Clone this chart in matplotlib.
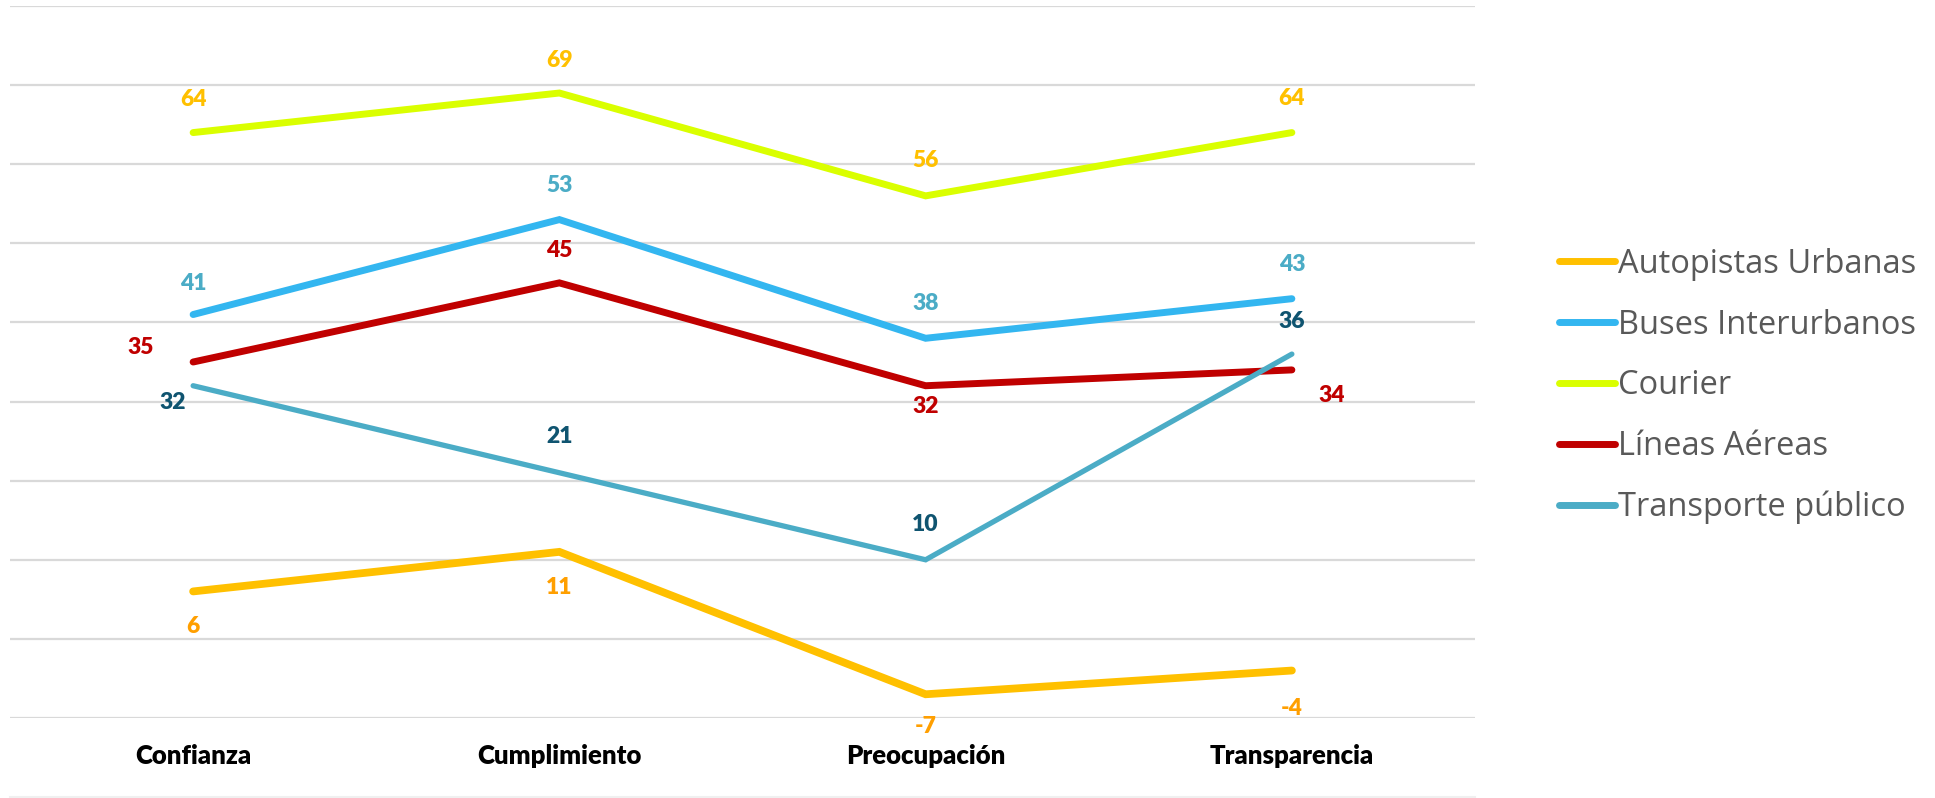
import matplotlib
matplotlib.use("Agg")
from matplotlib import pyplot as plt
from matplotlib.lines import Line2D

# categorías y series (índices)
categorias = ["Confianza", "Cumplimiento", "Preocupación", "Transparencia"]
series = ["Autopistas Urbanas", "Buses Interurbanos", "Courier",
          "Líneas Aéreas", "Transporte público"]
autopistas = [6, 11, -7, -4]
buses = [41, 53, 38, 43]
courier = [64, 69, 56, 64]
lineas = [35, 45, 32, 34]
transporte = [32, 21, 10, 36]

colores_linea = ["#FFC000", "#33B6F0", "#DAFF00", "#C00000", "#4BACC6"]
colores_etiqueta = ["#FF9F00", "#4BACC6", "#FFC000", "#C00000", "#0F5470"]
grosor = [5.6, 5.0, 5.0, 5.0, 3.8]

# desplazamiento (px) de cada etiqueta respecto a su punto
desp = [
    [(0, -35), (0, -36), (0, -32), (0, -38)],
    [(0, 31), (0, 34), (0, 35), (0, 34)],
    [(0, 33), (0, 33), (0, 35), (0, 34)],
    [(-52, 14), (0, 32), (0, -21), (40, -26)],
    [(-20, -17), (0, 36), (0, 35), (0, 33)],
]

valores = [autopistas, buses, courier, lineas, transporte]
x = list(range(len(categorias)))

fig = plt.figure(figsize=(19.35, 7.98), dpi=100)
ax = fig.add_axes([10 / 1935, 80 / 798, 1465 / 1935, 712 / 798])

for i in range(len(series)):
    ax.plot(x, valores[i], color=colores_linea[i], lw=grosor[i],
            solid_capstyle="round", solid_joinstyle="miter", zorder=3)
    for j, v in enumerate(valores[i]):
        ax.annotate(str(v), (x[j], v), xytext=desp[i][j],
                    textcoords="offset pixels", ha="center", va="center",
                    fontsize=16.5, fontweight="heavy", family="Lato",
                    color=colores_etiqueta[i], zorder=4)

ax.set_xlim(-0.5, 3.5)
ax.set_ylim(-10, 80)
ax.set_yticks(range(-10, 81, 10))
ax.yaxis.grid(True, color="#D9D9D9", lw=1.6)
ax.set_axisbelow(True)
ax.tick_params(axis="y", left=False, labelleft=False)
ax.tick_params(axis="x", length=0, pad=19)
ax.set_xticks(x)
ax.set_xticklabels(categorias, fontsize=18.5, fontweight="heavy", family="Lato")
for s in ax.spines.values():
    s.set_visible(False)

# línea tenue al pie del gráfico
fig.add_artist(Line2D([10 / 1935, 1475 / 1935], [1.5 / 798, 1.5 / 798],
                      color="#F0F0F0", lw=1.5))

handles = [Line2D([], [], color=c, lw=5, solid_capstyle="round")
           for c in colores_linea]
fig.legend(handles, series, loc="center left",
           bbox_to_anchor=(1530 / 1935, 412 / 798), frameon=False,
           prop={"family": "Open Sans", "size": 23.5},
           labelcolor="#595959", handlelength=1.7, handletextpad=0.1,
           labelspacing=0.85)

fig.savefig("out.png", dpi=100)
